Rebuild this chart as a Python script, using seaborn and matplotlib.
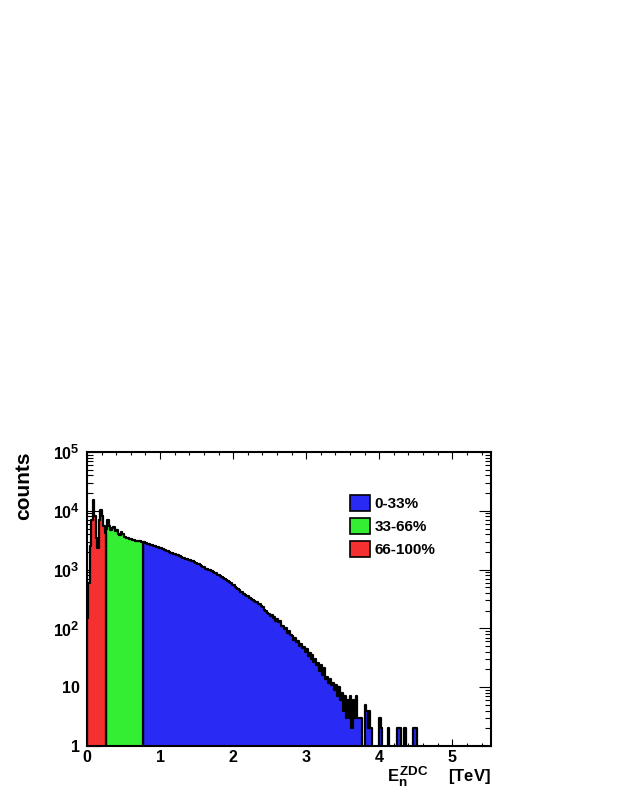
import numpy as np
import pandas as pd
import matplotlib
matplotlib.use('Agg')
import matplotlib.pyplot as plt
import matplotlib._mathtext as _mt
import seaborn as sns
from matplotlib.patches import Patch
from matplotlib.ticker import FixedLocator, MultipleLocator, LogLocator, NullFormatter, FixedFormatter

# ---------------- data ----------------
bin_width = 0.02
red_start = 0.00
green_start = 0.26
blue_start = 0.76

red_counts = [150, 600, 2500, 7000, 15000, 8000, 3500, 2300, 7000, 10500,
              8000, 5500, 4200]
green_counts = [5000, 6900, 5600, 4700, 5100, 5400, 4500, 4800, 4100, 3900,
                4300, 4000, 3650, 3550, 3500, 3420, 3350, 3280, 3230, 3180,
                3120, 3090, 3060, 3020, 2990]
blue_counts = [
    2950, 2910, 2810, 2770, 2710, 2660, 2590, 2550, 2490, 2440,
    2400, 2330, 2300, 2230, 2210, 2140, 2110, 2050, 2010, 1950,
    1930, 1860, 1840, 1770, 1740, 1680, 1660, 1600, 1580, 1530,
    1510, 1460, 1450, 1390, 1380, 1330, 1310, 1250, 1240, 1180,
    1160, 1100, 1090, 1040, 1030, 980, 970, 935, 925, 880,
    865, 825, 815, 770, 755, 720, 705, 665, 645, 610,
    590, 555, 540, 510, 495, 465, 450, 420, 410, 385,
    375, 360, 352, 332, 322, 302, 296, 278, 276, 262,
    256, 238, 228, 208, 198, 182, 176, 162, 168, 152,
    155, 136, 146, 126, 135, 112, 108, 98, 100, 84,
    90, 76, 74, 64, 68, 58, 62, 50, 55, 46,
    48, 40, 44, 34, 38, 30, 35, 27, 30, 24,
    26, 19, 24, 16, 21, 14, 15, 12, 14, 11,
    12, 9, 11, 7, 10, 6, 8, 4, 7, 3,
    6, 3, 7, 2, 6, 3, 7, 3, 3, 3,
    1, 0, 5, 4, 2, 4, 2, 0, 0, 0,
    0, 0, 3, 2, 0, 0, 0, 0, 2, 0,
    0, 0, 0, 0, 2, 2, 2, 0, 0, 2,
    0, 0, 0, 0, 0, 2, 2, 2,
]

legend_labels = ['0-33%', '33-66%', '66-100%']
x_ticks = [0, 1, 2, 3, 4, 5]
y_ticks = [1, 10, 100, 1000, 10000, 100000]
y_tick_labels = ['1', '10', r'$10^{2}$', r'$10^{3}$', r'$10^{4}$', r'$10^{5}$']

blue_color = '#2a2af5'
green_color = '#33ee33'
red_color = '#f53030'

# ---------------- style ----------------
sns.set_theme(style='ticks')
plt.rcParams['font.family'] = ['Liberation Sans', 'DejaVu Sans']
plt.rcParams['mathtext.fontset'] = 'custom'
plt.rcParams['mathtext.rm'] = 'Liberation Sans:bold'
plt.rcParams['mathtext.it'] = 'Liberation Sans:bold'
plt.rcParams['mathtext.bf'] = 'Liberation Sans:bold'
plt.rcParams['mathtext.sf'] = 'Liberation Sans:bold'
plt.rcParams['text.color'] = 'black'
plt.rcParams['axes.labelcolor'] = 'black'
plt.rcParams['xtick.color'] = 'black'
plt.rcParams['ytick.color'] = 'black'
_mt.SHRINK_FACTOR = 0.8  # ROOT-like larger super/subscripts

fig = plt.figure(figsize=(6.23, 8.06), dpi=100)
ax = fig.add_axes([87 / 623, 60 / 806, 404 / 623, 294 / 806])
ax.set_yscale('log')


def make_df(start, counts):
    centers = start + bin_width * (np.arange(len(counts)) + 0.5)
    return pd.DataFrame({'E': centers, 'n': np.asarray(counts, dtype=float)})


for start, counts, color in [(blue_start, blue_counts, blue_color),
                             (green_start, green_counts, green_color),
                             (red_start, red_counts, red_color)]:
    df = make_df(start, counts)
    sns.histplot(data=df, x='E', weights='n', binwidth=bin_width,
                 binrange=(start, start + bin_width * len(counts)),
                 element='step', fill=True, color=color, alpha=1,
                 edgecolor='black', linewidth=1.6, ax=ax)

ax.set_xlim(0, 5.53)
ax.set_ylim(1, 1e5)

ax.xaxis.set_major_locator(FixedLocator(x_ticks))
ax.xaxis.set_minor_locator(MultipleLocator(0.2))
ax.yaxis.set_major_locator(FixedLocator(y_ticks))
ax.yaxis.set_major_formatter(FixedFormatter(y_tick_labels))
ax.yaxis.set_minor_locator(LogLocator(base=10, subs=np.arange(2, 10)))
ax.yaxis.set_minor_formatter(NullFormatter())

ax.tick_params(which='both', direction='in', top=True, right=True, colors='black')
ax.tick_params(axis='x', which='major', length=5, width=0.8, pad=3, labelsize=11.5)
ax.tick_params(axis='x', which='minor', length=2.5, width=0.8)
ax.tick_params(axis='y', which='major', length=8.6, width=0.8, pad=5, labelsize=11.5)
ax.tick_params(axis='y', which='minor', length=4.3, width=0.8)
for lab in ax.get_xticklabels() + ax.get_yticklabels():
    lab.set_fontweight('bold')

for sp in ax.spines.values():
    sp.set_linewidth(1.5)
    sp.set_color('black')

ax.set_ylabel('counts', loc='top', fontsize=15, fontweight='bold')
ax.yaxis.set_label_coords(-0.134, 1.0)
ax.set_xlabel(r'$E_{n}^{ZDC}\;\;\;\;$ [TeV]', loc='right', fontsize=12, fontweight='bold')
ax.xaxis.set_label_coords(1.0, -0.062)

handles = [Patch(facecolor=c, edgecolor='black', linewidth=1.2, label=l)
           for c, l in zip([blue_color, green_color, red_color], legend_labels)]
ax.legend(handles=handles, loc='upper left', bbox_to_anchor=(0.652, 0.855),
          frameon=False, prop={'weight': 'bold', 'size': 11},
          handlelength=1.3, handleheight=1.25, handletextpad=0.3,
          labelspacing=0.44, borderaxespad=0, borderpad=0)

fig.savefig('out.png', dpi=100, facecolor='white')
